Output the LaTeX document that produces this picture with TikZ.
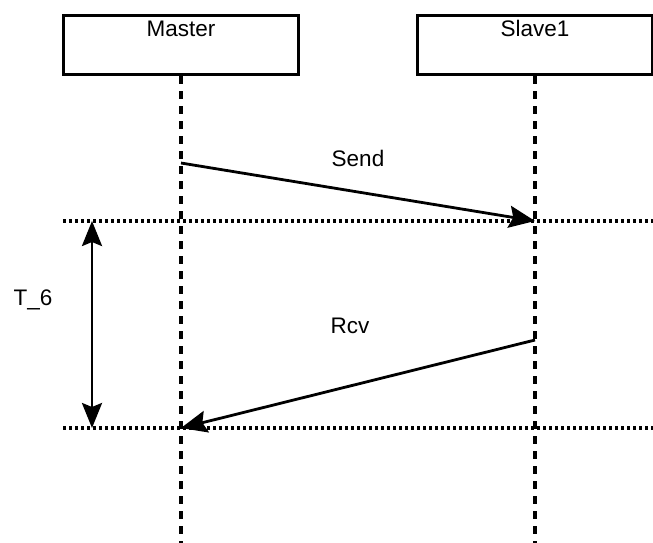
\documentclass[tikz,border=0pt]{standalone}
\usepackage{fontspec}
\setmainfont{Liberation Sans}
\usetikzlibrary{arrows.meta}
\begin{document}
\begin{tikzpicture}[x=1pt,y=-1pt,
  actor/.style={draw, line width=3.2pt, rectangle, minimum width=235pt, minimum height=59pt, inner sep=0pt, anchor=north},
  lbl/.style={font=\fontsize{22.5}{26}\selectfont, inner sep=0pt},
  lifeline/.style={line width=3.2pt, dash pattern=on 8pt off 7pt},
  sync/.style={line width=3.2pt, dash pattern=on 3.2pt off 2.8pt},
  msg/.style={line width=2.8pt, -{Stealth[length=26pt,width=22pt,inset=4pt]}},
  span/.style={line width=2.8pt, {Stealth[length=25pt,width=20pt,inset=4pt]}-{Stealth[length=25pt,width=20pt,inset=4pt]}}]
\useasboundingbox (0,0) rectangle (653,542);

% participants
\node[actor] (master) at (181,14) {};
\node[actor] (slave) at (535,14) {};
\node[lbl, anchor=base] (mastertxt) at (181,36) {Master};
\node[lbl, anchor=base] (slavetxt) at (535,36) {Slave1};

% lifeline ends
\coordinate (mEnd) at (181,545);
\coordinate (sEnd) at (535,545);
\draw[lifeline] (master.south) -- (mEnd);
\draw[lifeline] (slave.south) -- (sEnd);

% timing reference lines
\coordinate (l1a) at (63,221);
\coordinate (l1b) at (656,221);
\coordinate (l2a) at (63,428);
\coordinate (l2b) at (656,428);
\draw[sync] (l1a) -- (l1b);
\draw[sync] (l2a) -- (l2b);

% messages
\coordinate (sendFrom) at (181,163);
\coordinate (sendTo) at (535,221);
\coordinate (rcvFrom) at (535,340);
\coordinate (rcvTo) at (181,428);
\draw[msg] (sendFrom) -- (sendTo);
\draw[msg] (rcvFrom) -- (rcvTo);
\node[lbl] (sendtxt) at (358,158) {Send};
\node[lbl] (rcvtxt) at (350,326) {Rcv};

% T_6 interval
\coordinate (tTop) at (92,221);
\coordinate (tBot) at (92,428);
\draw[span] (tTop) -- (tBot);
\node[lbl] (ttxt) at (33,300) {T\_6};
\end{tikzpicture}
\end{document}
